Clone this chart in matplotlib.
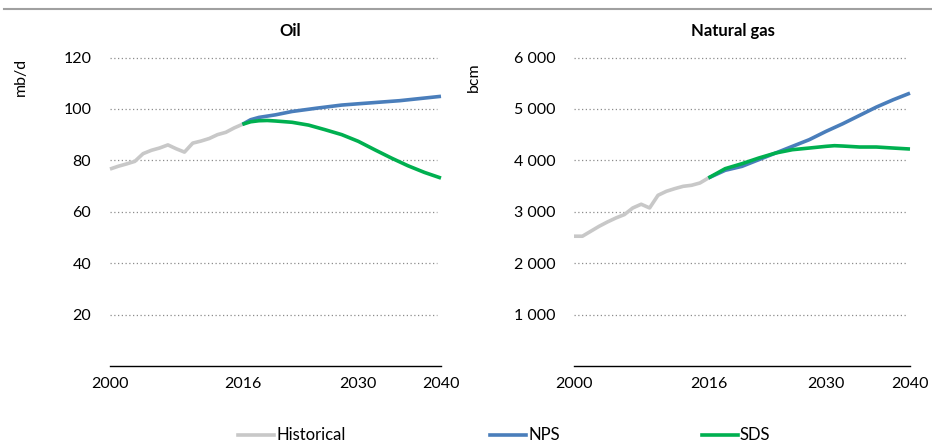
import matplotlib
matplotlib.use("Agg")
import matplotlib.pyplot as plt
from matplotlib.lines import Line2D

plt.rcParams['font.family'] = ['Lato', 'DejaVu Sans']

# Oil (mb/d)
oil_hist_years = list(range(2000, 2017))
oil_hist = [76.6, 77.7, 78.6, 79.6, 82.6, 83.9, 84.8, 86.0, 84.5, 83.2, 86.7, 87.5, 88.5, 90.0, 90.9, 92.6, 94.0]
oil_nps_years = [2016, 2017, 2018, 2019, 2020, 2022, 2025, 2028, 2030, 2035, 2040]
oil_nps = [94.0, 95.8, 96.7, 97.2, 97.7, 99.0, 100.3, 101.5, 102.0, 103.2, 104.9]
oil_sds_years = [2016, 2017, 2018, 2019, 2020, 2022, 2024, 2026, 2028, 2030, 2032, 2034, 2036, 2038, 2040]
oil_sds = [94.0, 95.0, 95.4, 95.5, 95.3, 94.8, 93.7, 91.9, 90.0, 87.4, 84.1, 80.9, 77.9, 75.3, 73.1]

# Natural gas (bcm)
gas_hist_years = list(range(2000, 2017))
gas_hist = [2524, 2524, 2621, 2718, 2803, 2880, 2945, 3074, 3146, 3074, 3320, 3398, 3450, 3495, 3515, 3560, 3657]
gas_nps_years = [2016, 2018, 2020, 2022, 2024, 2026, 2028, 2030, 2032, 2034, 2036, 2038, 2040]
gas_nps = [3657, 3806, 3883, 4013, 4142, 4272, 4401, 4563, 4712, 4874, 5036, 5178, 5307]
gas_sds_years = [2016, 2018, 2020, 2022, 2024, 2026, 2028, 2030, 2031, 2032, 2034, 2036, 2038, 2040]
gas_sds = [3657, 3838, 3935, 4045, 4142, 4207, 4239, 4272, 4285, 4278, 4259, 4259, 4239, 4220]

xticks = [2000, 2016, 2030, 2040]
oil_yticks = [20, 40, 60, 80, 100, 120]
gas_yticks = [1000, 2000, 3000, 4000, 5000, 6000]
gas_ytick_labels = ["1 000", "2 000", "3 000", "4 000", "5 000", "6 000"]

c_hist = "#C8C8C8"
c_nps = "#4A7EBB"
c_sds = "#00B050"
lw = 2.6
fs = 11.5

W, H = 932, 442
fig = plt.figure(figsize=(W / 100, H / 100), dpi=100)

def ax_rect(x0, x1, y_top, y_bot):
    return [x0 / W, 1 - y_bot / H, (x1 - x0) / W, (y_bot - y_top) / H]

ax1 = fig.add_axes(ax_rect(110, 441, 57.5, 366))
ax2 = fig.add_axes(ax_rect(574, 910, 57.5, 366))

def style(ax, yticks, ylabels, ymax, unit, title, title_x, unit_x):
    ax.set_xlim(2000, 2040)
    ax.set_ylim(0, ymax)
    for s in ['top', 'right', 'left']:
        ax.spines[s].set_visible(False)
    ax.spines['bottom'].set_color('black')
    ax.spines['bottom'].set_linewidth(1.0)
    ax.set_xticks(xticks)
    ax.set_xticklabels([str(t) for t in xticks], fontsize=fs, color='black')
    ax.set_yticks(yticks)
    ax.set_yticklabels(ylabels, fontsize=fs, color='black')
    ax.tick_params(axis='both', length=0)
    ax.tick_params(axis='x', pad=8)
    ax.tick_params(axis='y', pad=13.5)
    for yt in yticks:
        ax.plot([2000, 2039.5], [yt, yt], color='#8C8C8C', lw=0.9, ls=(0, (1, 2)), zorder=1, clip_on=False)
    fig.text(title_x / W, 1 - 31 / H, title, ha='center', va='center', fontsize=12, fontweight='bold')
    fig.text(unit_x / W, 1 - 77 / H, unit, ha='center', va='center', rotation=90, fontsize=fs)

style(ax1, oil_yticks, [str(v) for v in oil_yticks], 120, "mb/d", "Oil", 290, 21)
style(ax2, gas_yticks, gas_ytick_labels, 6000, "bcm", "Natural gas", 733, 474)

for ax, hy, hv, ny, nv, sy, sv in [
    (ax1, oil_hist_years, oil_hist, oil_nps_years, oil_nps, oil_sds_years, oil_sds),
    (ax2, gas_hist_years, gas_hist, gas_nps_years, gas_nps, gas_sds_years, gas_sds),
]:
    ax.plot(hy, hv, color=c_hist, lw=lw, zorder=3, clip_on=False, solid_capstyle='butt')
    ax.plot(ny, nv, color=c_nps, lw=lw, zorder=4, clip_on=False, solid_capstyle='butt')
    ax.plot(sy, sv, color=c_sds, lw=lw, zorder=5, clip_on=False, solid_capstyle='butt')

# top rule
fig.add_artist(Line2D([4 / W, 1.0], [1 - 9 / H, 1 - 9 / H], color='#A0A0A0', lw=1.5))

# legend
legend_items = [("Historical", c_hist, 238), ("NPS", c_nps, 490), ("SDS", c_sds, 702)]
ly = 1 - 435 / H
for label, col, x0 in legend_items:
    fig.add_artist(Line2D([x0 / W, (x0 + 36) / W], [ly, ly], color=col, lw=lw))
    fig.text((x0 + 38) / W, ly, label, ha='left', va='center', fontsize=12)

fig.savefig("out.png", dpi=100)
